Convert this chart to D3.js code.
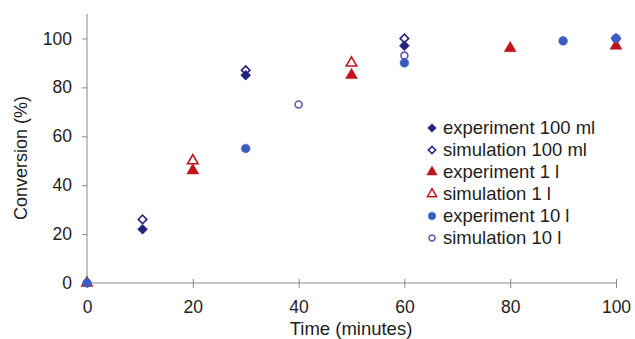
<!DOCTYPE html>
<html>
<head>
<meta charset="utf-8">
<script src="https://cdn.jsdelivr.net/npm/d3@7"></script>
<style>
  body { margin: 0; background: #fff; }
  text { font-family: "Liberation Sans", Arial, sans-serif; fill: #1e1e1e; }
</style>
</head>
<body>
<div id="chart"></div>
<script>
// conversion vs time, three scales, experiment and simulation

const xTicks = [0, 20, 40, 60, 80, 100];
const yTicks = [0, 20, 40, 60, 80, 100];

const exp100mlTime = [10.5, 30, 60];
const exp100mlConv = [22, 85, 97];
const sim100mlTime = [10.5, 30, 60, 100];
const sim100mlConv = [26, 87, 100, 100];

const exp1lTime = [0, 20, 50, 80, 100];
const exp1lConv = [0, 46, 85, 96, 97];
const sim1lTime = [20, 50];
const sim1lConv = [50, 90];

const exp10lTime = [0, 30, 60, 90, 100];
const exp10lConv = [0, 55, 90, 99, 100];
const sim10lTime = [40, 60];
const sim10lConv = [73, 93];

const seriesNames = ["experiment 100 ml", "simulation 100 ml", "experiment 1 l", "simulation 1 l", "experiment 10 l", "simulation 10 l"];

var width = 635, height = 339;
var margin = {left: 87, right: 19, top: 14, bottom: 56};

let svg = d3.select("#chart").append("svg")
    .attr("width", width)
    .attr("height", height);

let x = d3.scaleLinear().domain([0, 100]).range([margin.left, width - margin.right]);
let y = d3.scaleLinear().domain([0, 110]).range([height - margin.bottom, margin.top]);

// axes
let xAxis = svg.append("g")
    .attr("transform", "translate(0," + y(0) + ")")
    .call(d3.axisBottom(x).tickValues(xTicks).tickSize(6).tickSizeOuter(0).tickPadding(12));
let yAxis = svg.append("g")
    .attr("transform", "translate(" + x(0) + ",0)")
    .call(d3.axisLeft(y).tickValues(yTicks).tickSize(6).tickSizeOuter(0).tickPadding(9));

// ticks cross the axis line like in excel
xAxis.selectAll(".tick line").attr("y1", -4).attr("y2", 5);
yAxis.selectAll(".tick line").attr("x1", -5).attr("x2", 0);
xAxis.select(".domain").attr("d", "M" + x(0) + ",0H" + x(100));
yAxis.select(".domain").attr("d", "M0," + y(0) + "V" + y(110));

[xAxis, yAxis].forEach(a => {
    a.selectAll("line, path").attr("stroke", "#8a8a8a");
    a.selectAll("text").style("font-size", "17.5px").attr("fill", "#1e1e1e");
});

svg.append("text")
    .text("Time (minutes)")
    .attr("x", 351)
    .attr("y", 335)
    .style("text-anchor", "middle")
    .style("font-size", "18.5px");

svg.append("text")
    .text("Conversion (%)")
    .attr("transform", "translate(27," + 158 + ") rotate(-90)")
    .style("text-anchor", "middle")
    .style("font-size", "18px");

// marker styles
const navy = "#23237f", red = "#c0141c", blue = "#3a5cc0", lightBlue = "#5a5ab0";
let styles = [
    {type: d3.symbolSquare, rot: 45, size: 50, fill: navy, stroke: navy},
    {type: d3.symbolSquare, rot: 45, size: 36, fill: "#fff", stroke: navy},
    {type: d3.symbolTriangle, rot: 0, size: 62, fill: red, stroke: red},
    {type: d3.symbolTriangle, rot: 0, size: 48, fill: "#fff", stroke: red},
    {type: d3.symbolCircle, rot: 0, size: 60, fill: blue, stroke: blue},
    {type: d3.symbolCircle, rot: 0, size: 38, fill: "#fff", stroke: lightBlue}
];
let seriesData = [
    [exp100mlTime, exp100mlConv], [sim100mlTime, sim100mlConv],
    [exp1lTime, exp1lConv], [sim1lTime, sim1lConv],
    [exp10lTime, exp10lConv], [sim10lTime, sim10lConv]
];

let drawOrder = [1, 0, 3, 2, 5, 4];
drawOrder.forEach(function(s) {
    let st = styles[s];
    let pts = seriesData[s][0].map((t, i) => ({t: t, c: seriesData[s][1][i]}));
    svg.append("g").selectAll("path")
        .data(pts)
        .enter()
        .append("path")
        .attr("d", d3.symbol().type(st.type).size(st.size))
        .attr("transform", d => "translate(" + x(d.t) + "," + y(d.c) + ") rotate(" + st.rot + ")")
        .attr("fill", st.fill)
        .attr("stroke", st.stroke)
        .attr("stroke-width", st.fill === "#fff" ? 1.6 : 0.5);
});

// legend
let legend = svg.append("g").attr("transform", "translate(432,128)");
seriesNames.forEach(function(name, i) {
    let st = styles[i];
    let row = legend.append("g").attr("transform", "translate(0," + (i * 22) + ")");
    row.append("path")
        .attr("d", d3.symbol().type(st.type).size(st.size * 0.75))
        .attr("transform", "rotate(" + st.rot + ")")
        .attr("fill", st.fill)
        .attr("stroke", st.stroke)
        .attr("stroke-width", st.fill === "#fff" ? 1.5 : 0.5);
    row.append("text")
        .text(name)
        .attr("x", 11)
        .attr("y", 6)
        .style("font-size", "18.5px");
});
</script>
</body>
</html>
